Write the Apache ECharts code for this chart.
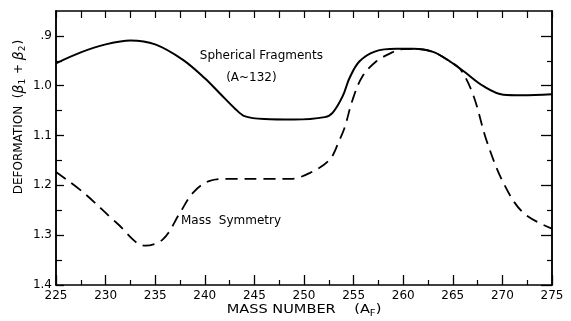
<!DOCTYPE html>
<html>
<head>
<meta charset="utf-8">
<script src="https://cdn.jsdelivr.net/npm/echarts@6/dist/echarts.min.js"></script>
<style>
  html, body { margin: 0; padding: 0; background: #fff; }
  #chart { width: 571px; height: 321px; }
</style>
</head>
<body>
<div id="chart"></div>
<script>
// Deformation (beta1 + beta2) versus mass number of the fissioning nucleus
const massTicks = [225, 230, 235, 240, 245, 250, 255, 260, 265, 270, 275];

const yMajorValues = [0.9, 1.0, 1.1, 1.2, 1.3, 1.4];
const yMajorLabels = ['.9', '1.0', '1.1', '1.2', '1.3', '1.4'];
const yMinorValues = [0.95, 1.05, 1.15, 1.25, 1.35];

// Spherical fragments (A~132) path
const sphericalMass = [225, 227.5, 230, 232.5, 235, 237.8, 240, 241.5, 243, 244, 246, 249, 252.1, 252.9, 253.9, 254.6, 255.6, 257.2, 259.3, 261, 263, 264.7, 266.1, 268.1, 270.1, 272, 275];
const sphericalDef  = [0.955, 0.933, 0.917, 0.909, 0.917, 0.948, 0.985, 1.015, 1.045, 1.061, 1.067, 1.068, 1.063, 1.054, 1.021, 0.984, 0.951, 0.931, 0.926, 0.926, 0.932, 0.951, 0.971, 1.001, 1.018, 1.019, 1.017];

// Mass-symmetric path
const symmetryMass = [225, 227.8, 231.1, 234, 235.8, 237.5, 238.8, 240.5, 242.5, 246, 248.6, 250.6, 252.6, 253.6, 254.1, 254.9, 255.9, 257.3, 258.7, 259.7, 261, 263, 264.7, 265.8, 267.1, 268.4, 270.1, 272.1, 275];
const symmetryDef  = [1.173, 1.215, 1.275, 1.321, 1.308, 1.255, 1.215, 1.191, 1.187, 1.187, 1.187, 1.175, 1.148, 1.108, 1.084, 1.028, 0.981, 0.951, 0.935, 0.927, 0.926, 0.932, 0.951, 0.968, 1.021, 1.11, 1.195, 1.255, 1.287];

// Curve annotations, anchored in data coordinates
const noteText  = ['Spherical Fragments', '(A~132)', 'Mass  Symmetry'];
const noteMass  = [245.7, 244.7, 237.6];
const noteDef   = [0.941, 0.985, 1.271];
const noteAlign = ['center', 'center', 'left'];

const ink = '#000';
const font = '"DejaVu Sans", "Liberation Sans", sans-serif';

const chart = echarts.init(document.getElementById('chart'), null, { renderer: 'canvas' });

const zip = (xs, ys) => xs.map((x, i) => [x, ys[i]]);

const baseY = {
  type: 'value', inverse: true, min: 0.85, max: 1.4,
  splitLine: { show: false },
  axisLine: { show: true, lineStyle: { color: ink, width: 1.5 } }
};

chart.setOption({
  animation: false,
  backgroundColor: '#fff',
  grid: { left: 56, right: 19, top: 11, bottom: 36 },
  xAxis: [
    {
      type: 'value', min: massTicks[0], max: massTicks[massTicks.length - 1], interval: 5,
      position: 'bottom',
      splitLine: { show: false },
      axisLine: { lineStyle: { color: ink, width: 1.5 } },
      axisTick: { inside: true, length: 10, lineStyle: { color: ink, width: 1.3 } },
      minorTick: { show: true, splitNumber: 2, length: 5, lineStyle: { color: ink, width: 1.2 } },
      axisLabel: { color: ink, fontSize: 12, fontFamily: font, margin: 5 }
    },
    {
      type: 'value', min: massTicks[0], max: massTicks[massTicks.length - 1], interval: 2.5,
      position: 'top',
      splitLine: { show: false },
      axisLine: { lineStyle: { color: ink, width: 1.5 } },
      axisTick: { inside: true, length: 7, lineStyle: { color: ink, width: 1.2 } },
      axisLabel: { show: false }
    }
  ],
  yAxis: [
    Object.assign({}, baseY, {
      position: 'left',
      axisTick: { inside: true, length: 8, customValues: yMajorValues, lineStyle: { color: ink, width: 1.3 } },
      axisLabel: {
        customValues: yMajorValues, color: ink, fontSize: 12, fontFamily: font, margin: 4,
        formatter: v => yMajorLabels[yMajorValues.findIndex(t => Math.abs(t - v) < 1e-6)] || ''
      }
    }),
    Object.assign({}, baseY, {
      position: 'left',
      axisTick: { inside: true, length: 6, customValues: yMinorValues, lineStyle: { color: ink, width: 1.2 } },
      axisLabel: { show: false }
    }),
    Object.assign({}, baseY, {
      position: 'right',
      axisTick: { inside: true, length: 11, customValues: yMajorValues, lineStyle: { color: ink, width: 1.3 } },
      axisLabel: { show: false }
    }),
    Object.assign({}, baseY, {
      position: 'right',
      axisTick: { inside: true, length: 5, customValues: yMinorValues, lineStyle: { color: ink, width: 1.2 } },
      axisLabel: { show: false }
    })
  ],
  series: [
    {
      name: 'Spherical Fragments', type: 'line', xAxisIndex: 0, yAxisIndex: 0,
      data: zip(sphericalMass, sphericalDef),
      smooth: 0.35, symbol: 'none',
      lineStyle: { color: '#000', width: 2 }
    },
    {
      name: 'Mass Symmetry', type: 'line', xAxisIndex: 0, yAxisIndex: 0,
      data: zip(symmetryMass, symmetryDef),
      smooth: 0.35, symbol: 'none',
      lineStyle: { color: '#000', width: 1.8, type: [12, 7] }
    }
  ]
});

// Annotations and axis titles
const notes = noteText.map((t, i) => {
  const p = chart.convertToPixel({ xAxisIndex: 0, yAxisIndex: 0 }, [noteMass[i], noteDef[i]]);
  return {
    type: 'text', x: p[0], y: p[1],
    style: { text: t, fill: ink, font: '12px ' + font, align: noteAlign[i], verticalAlign: 'middle' }
  };
});

chart.setOption({
  graphic: notes.concat([
    {
      type: 'text', x: 19, y: 117, rotation: Math.PI / 2,
      style: {
        text: '{m|DEFORMATION  (}{g|β}{s|1}{m| + }{g|β}{s|2}{m|)}',
        align: 'center', verticalAlign: 'middle', fill: ink,
        rich: {
          m: { fontSize: 12, fontFamily: font, fill: ink, lineHeight: 17 },
          g: { fontSize: 14, fontFamily: font, fontStyle: 'italic', fill: ink, lineHeight: 17 },
          s: { fontSize: 9, fontFamily: font, fill: ink, lineHeight: 17, verticalAlign: 'bottom', padding: [0, 1, 0, 0] }
        }
      }
    },
    {
      type: 'text', x: 304, y: 310, scaleX: 1.12,
      style: {
        text: '{m|MASS NUMBER    (A}{s|F}{m|)}',
        align: 'center', verticalAlign: 'middle', fill: ink,
        rich: {
          m: { fontSize: 13, fontFamily: font, fill: ink, lineHeight: 16 },
          s: { fontSize: 9, fontFamily: font, fill: ink, lineHeight: 16, verticalAlign: 'bottom' }
        }
      }
    }
  ])
});
</script>
</body>
</html>
